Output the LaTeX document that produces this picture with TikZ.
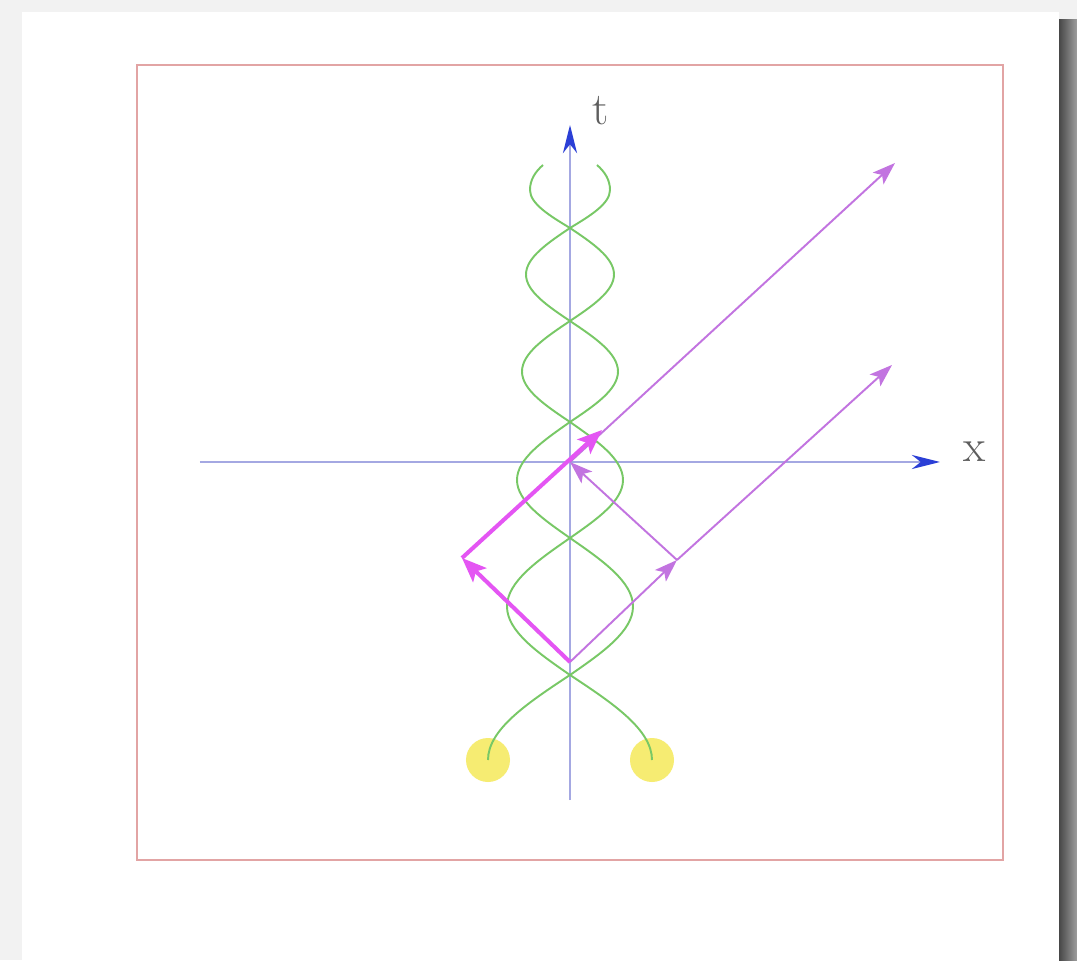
\documentclass[tikz,border=0pt]{standalone}
\usepackage{tikz}
\usetikzlibrary{arrows.meta}
\definecolor{axisBlue}{HTML}{A4A8E2}
\definecolor{tipBlue}{HTML}{2B3FD6}
\definecolor{frameRed}{HTML}{E2A4A4}
\definecolor{rayViolet}{HTML}{C274E0}
\definecolor{rayMagenta}{HTML}{E455F3}
\definecolor{strandGreen}{HTML}{78C866}
\definecolor{sunYellow}{HTML}{F6EC72}
\definecolor{labelGray}{HTML}{5E5E5E}

\begin{document}
\begin{tikzpicture}[
  lbl/.style={text=labelGray, font=\fontsize{26}{30}\selectfont, inner sep=0pt},
  axisline/.style={draw=axisBlue, line width=1.3pt,
                   -{Stealth[length=16pt, width=8pt, inset=5pt, color=tipBlue]}},
  strand/.style={draw=strandGreen, line width=1.1pt},
  sun/.style={circle, fill=sunYellow, minimum size=0.88cm, inner sep=0pt},
  ray/.style={draw=rayViolet, line width=1.1pt,
              -{Stealth[length=13pt, width=9pt, inset=3pt]}},
  rayb/.style={draw=rayMagenta, line width=2.3pt,
               -{Stealth[length=14pt, width=11pt, inset=3pt]}},
]
  \useasboundingbox (-11.4,-9.96) rectangle (10.14,9.24);

  % page card with its shadow
  \fill[black!5] (-11.4,-9.96) rectangle (10.14,9.24);
  \shade[left color=black!72, right color=black!38] (9.78,-9.96) rectangle (10.14,8.85);
  \fill[white] (-10.96,-9.96) rectangle (9.78,9.0);
  \draw[frameRed, line width=1pt] (-8.66,-7.96) rectangle (8.66,7.94);

  % axes
  \coordinate (O) at (0,0);
  \coordinate (xL) at (-7.4,0);
  \coordinate (xR) at (7.4,0);
  \coordinate (tB) at (0,-6.76);
  \coordinate (tT) at (0,6.74);
  \draw[axisline] (xL) -- (xR);
  \draw[axisline] (tB) -- (tT);
  \node[lbl] (tlab) at (0.62,7.02) {t};
  \node[lbl] (xlab) at (8.1,0.2) {x};

  % the two sources and their twisted world lines
  \node[sun] (sunL) at (-1.64,-5.96) {};
  \node[sun] (sunR) at (1.64,-5.96) {};
  \foreach \s in {1,-1}
    \draw[strand, xscale=\s] (-1.64,-5.96)
      .. controls (-1.64,-5.346) and (-0.838,-4.813) .. (0,-4.26)
      .. controls (0.644,-3.815) and (1.26,-3.385) .. (1.26,-2.89)
      .. controls (1.26,-2.395) and (0.644,-1.966) .. (0,-1.52)
      .. controls (-0.541,-1.143) and (-1.06,-0.779) .. (-1.06,-0.36)
      .. controls (-1.06,0.059) and (-0.541,0.423) .. (0,0.8)
      .. controls (0.49,1.129) and (0.96,1.445) .. (0.96,1.81)
      .. controls (0.96,2.175) and (0.49,2.492) .. (0,2.82)
      .. controls (-0.45,3.122) and (-0.88,3.414) .. (-0.88,3.75)
      .. controls (-0.88,4.086) and (-0.45,4.378) .. (0,4.68)
      .. controls (0.409,4.927) and (0.8,5.166) .. (0.8,5.44)
      .. controls (0.8,5.64) and (0.7,5.8) .. (0.54,5.94);

  % light rays
  \coordinate (B) at (0,-4.0);
  \coordinate (L) at (-2.16,-1.92);
  \coordinate (R) at (2.14,-1.96);
  \coordinate (M) at (0.64,0.64);
  \coordinate (P1) at (6.5,5.98);
  \coordinate (P2) at (6.44,1.94);
  \draw[ray] (O) -- (P1);
  \draw[ray] (B) -- (R);
  \draw[ray] (R) -- (P2);
  \draw[ray] (R) -- (O);
  \draw[rayb] (B) -- (L);
  \draw[rayb] (L) -- (M);
\end{tikzpicture}
\end{document}
